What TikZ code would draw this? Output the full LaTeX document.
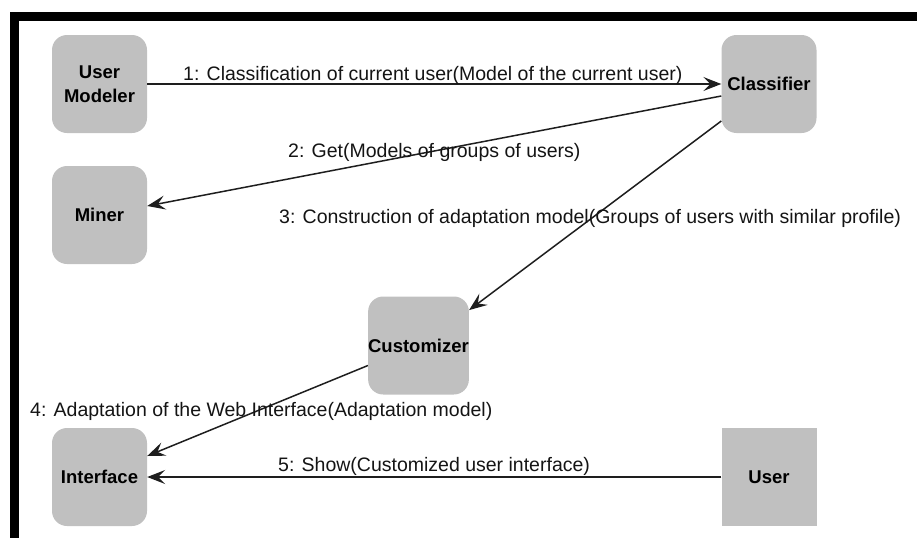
\documentclass[tikz,border=0pt]{standalone}
\usepackage{fontspec}
\setmainfont{Liberation Sans}
\usetikzlibrary{arrows.meta}
\definecolor{boxgray}{HTML}{C0C0C0}
\definecolor{linecol}{HTML}{1E1E1E}
\definecolor{labelcol}{HTML}{141414}
\begin{document}
\begin{tikzpicture}[x=1pt,y=-1pt,
  box/.style={fill=boxgray, draw=none, rounded corners=15pt, minimum width=95pt, minimum height=98pt,
    inner sep=0pt, font=\fontsize{18.5}{24}\selectfont\bfseries, align=center, text=black},
  sqbox/.style={box, rounded corners=0pt},
  msg/.style={-{Stealth[length=18pt,width=14pt,inset=7pt]}, line width=1.5pt, draw=linecol},
  lbl/.style={anchor=base west, font=\fontsize{19.5}{23}\selectfont, text=labelcol, inner sep=0pt}]
\useasboundingbox (0,0) rectangle (917,538);
% frame bars
\fill[black] (10,12) rectangle (917,21);
\fill[black] (10,12) rectangle (19,538);
% nodes
\node[box] (um) at (99.5,84) {User\\Modeler};
\node[box] (cls) at (769,84) {Classifier};
\node[box] (miner) at (99.5,215) {Miner};
\node[box] (cust) at (418.5,345.5) {Customizer};
\node[box] (intf) at (99.5,477) {Interface};
\node[sqbox] (user) at (769,477) {User};
% connectors
\draw[msg] (um.east) -- (cls.west);
\draw[msg] ([yshift=-12pt]cls.west) -- ([yshift=9pt]miner.east);
\draw[msg] ([yshift=-37pt]cls.west) -- (cust.35);
\draw[msg] ([yshift=-20pt]cust.west) -- ([yshift=21pt]intf.east);
\draw[msg] (user.west) -- (intf.east);
% labels
\node[lbl] (l1) at (183,80.5) {1: Classification of current user(Model of the current user)};
\node[lbl] (l2) at (288,157.5) {2: Get(Models of groups of users)};
\node[lbl] (l3) at (279,223) {3: Construction of adaptation model(Groups of users with similar profile)};
\node[lbl] (l4) at (30,416.5) {4: Adaptation of the Web Interface(Adaptation model)};
\node[lbl] (l5) at (278,471.5) {5: Show(Customized user interface)};
\end{tikzpicture}
\end{document}
